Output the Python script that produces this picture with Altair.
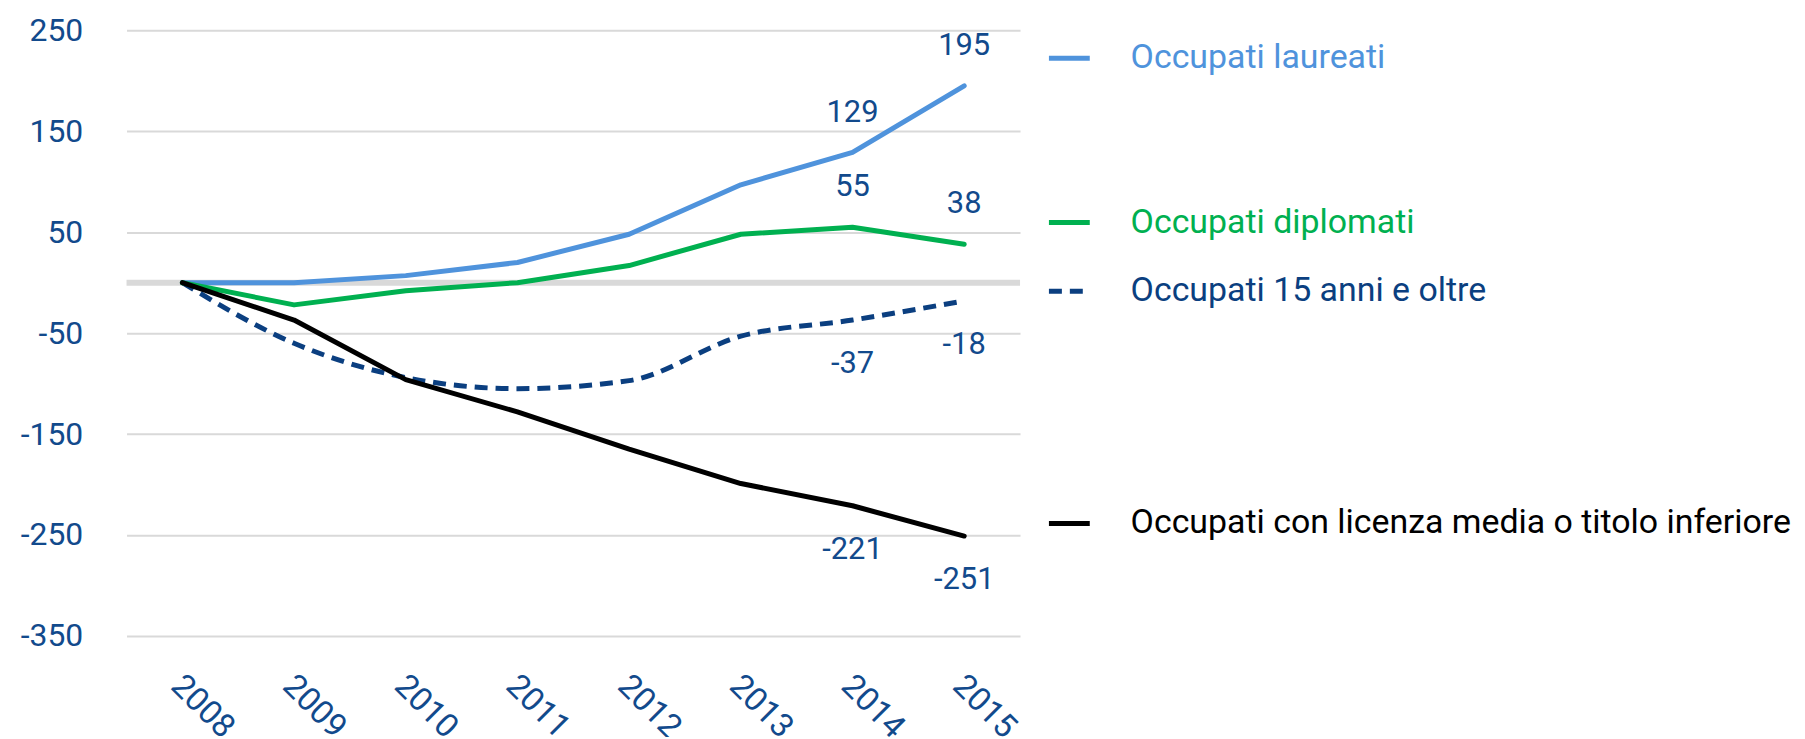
import altair as alt
import pandas as pd

years = ["2008", "2009", "2010", "2011", "2012", "2013", "2014", "2015"]
laureati = [0, 0, 7, 20, 48, 97, 129, 195]
diplomati = [0, -22, -8, 0, 17, 48, 55, 38]
totale = [0, -60, -94, -105, -97, -53, -37, -18]
licenza = [0, -37, -96, -128, -165, -199, -221, -251]

series_names = [
    "Occupati laureati",
    "Occupati diplomati",
    "Occupati 15 anni e oltre",
    "Occupati con licenza media o titolo inferiore",
]
series_values = [laureati, diplomati, totale, licenza]
series_colors = ["#4f93dc", "#00b050", "#0b3f80", "#000000"]
label_colors = ["#4f93dc", "#00b050", "#0b3f80", "#000000"]
labelled_years = ["2014", "2015"]
y_ticks = [-350, -250, -150, -50, 50, 150, 250]

FONT = "Roboto"
TXT = "#124a8c"
W, H = 897, 608

rows = []
for name, vals in zip(series_names, series_values):
    for y, v in zip(years, vals):
        rows.append({"year": y, "value": v, "series": name})
df = pd.DataFrame(rows)

x_enc = alt.X(
    "year:O",
    sort=years,
    scale=alt.Scale(type="point", padding=0.5),
    axis=alt.Axis(
        title=None, labelAngle=45, labelPadding=33, labelFontSize=33,
        labelOffset=5,
        labelColor=TXT, labelFont=FONT, ticks=False, domain=False, grid=False,
    ),
)
y_scale = alt.Scale(domain=[-350, 250], nice=False, zero=False)
y_enc = alt.Y(
    "value:Q",
    scale=y_scale,
    axis=alt.Axis(
        title=None, values=y_ticks, labelPadding=44, labelFontSize=32,
        labelColor=TXT, labelFont=FONT, ticks=False, domain=False,
        grid=True, gridColor="#d9d9d9", gridWidth=2,
        labelExpr="'' + datum.value",
    ),
)

base = alt.Chart(df)

zero = alt.Chart(pd.DataFrame({"v": [0]})).mark_rule(
    color="#d9d9d9", strokeWidth=6
).encode(y=alt.Y("v:Q", scale=y_scale))

layers = [zero]
order = [2, 0, 1, 3]
for i in order:
    name = series_names[i]
    mk = dict(color=series_colors[i], strokeWidth=5, strokeCap="round", strokeJoin="round")
    if i == 2:
        mk.update(strokeDash=[13, 8], interpolate="monotone", strokeCap="butt")
    layers.append(
        base.transform_filter(alt.datum.series == name)
        .mark_line(**mk)
        .encode(x=x_enc, y=y_enc)
    )

# data labels
above = [0, 1]
below = [2, 3]
for i in above + below:
    name = series_names[i]
    dy = -40 if i in above else 44
    layers.append(
        base.transform_filter(alt.datum.series == name)
        .transform_filter(alt.FieldOneOfPredicate(field="year", oneOf=labelled_years))
        .transform_calculate(lbl="'' + datum.value")
        .mark_text(font=FONT, fontSize=31, color=TXT, dy=dy, baseline="middle")
        .encode(x=x_enc, y=y_enc, text=alt.Text("lbl:N"))
    )

# legend (manual, positioned to the right of the plot)
leg_y = [28, 193, 262, 495]
leg_df = pd.DataFrame({"series": series_names})
for i, name in enumerate(series_names):
    d = leg_df[leg_df.series == name]
    rule_kw = dict(color=series_colors[i], strokeWidth=5)
    if i == 2:
        rule_kw.update(strokeDash=[13, 8])
    layers.append(
        alt.Chart(d).mark_rule(**rule_kw).encode(
            x=alt.value(926), x2=alt.value(967), y=alt.value(leg_y[i])
        )
    )
    layers.append(
        alt.Chart(d).mark_text(
            font=FONT, fontSize=34, color=label_colors[i], align="left", baseline="middle"
        ).encode(x=alt.value(1008), y=alt.value(leg_y[i]), text="series:N")
    )

chart = (
    alt.layer(*layers)
    .properties(
        width=W, height=H,
        autosize=alt.AutoSizeParams(type="none"),
        padding={"left": 119, "top": 21, "right": 780, "bottom": 100},
    )
    .configure(background="white", view=alt.ViewConfig(stroke=None))
)

chart.save("out.html", embed_options={"renderer": "svg", "actions": False})
